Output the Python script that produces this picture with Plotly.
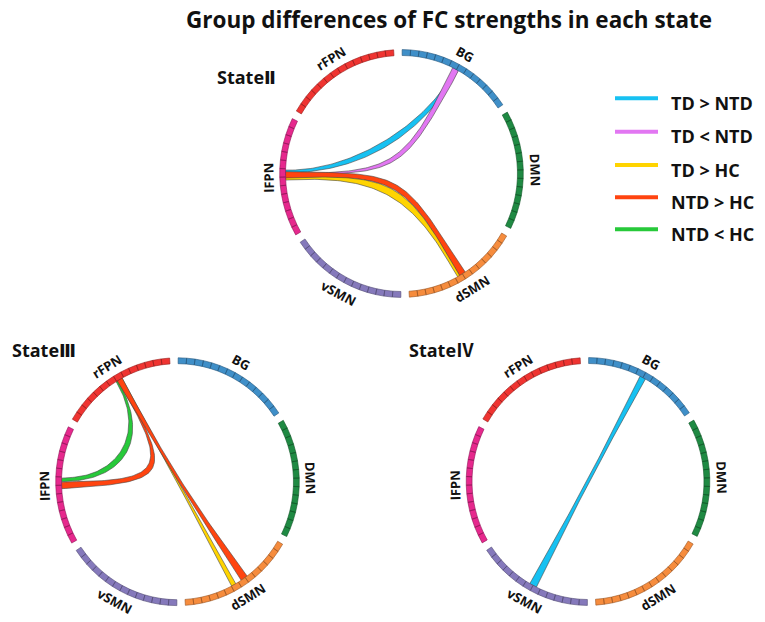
import numpy as np
import plotly.graph_objects as go

# ---- data -------------------------------------------------------------
groups = ["BG", "DMN", "dSMN", "vSMN", "lFPN", "rFPN"]   # clockwise from the top
group_colors = ["#3f8fc8", "#1f8a43", "#f68c3d", "#8579bb", "#e6288d", "#ef3431"]
n_roi = 14

contrasts = ["TD > NTD", "TD < NTD", "TD > HC", "NTD > HC", "NTD < HC"]
contrast_colors = ["#17c1f2", "#e277f2", "#ffd400", "#ff4410", "#27c93a"]

state_names = ["Ⅱ", "Ⅲ", "Ⅳ"]

# (contrast, group A, ROI position A, width A, group B, ROI position B, width B)
links_state2 = [
    ("TD > NTD", "lFPN", 7.68, 0.33, "BG", 7.05, 0.38),
    ("TD < NTD", "lFPN", 7.35, 0.20, "BG", 6.90, 0.85),
    ("NTD > HC", "lFPN", 7.20, 0.90, "dSMN", 7.03, 0.88),
    ("TD > HC", "lFPN", 6.75, 0.25, "dSMN", 7.58, 0.35),
]
links_state3 = [
    ("TD > HC", "rFPN", 7.68, 0.20, "dSMN", 7.70, 0.63),
    ("NTD < HC", "rFPN", 7.05, 0.25, "lFPN", 7.68, 0.48),
    ("NTD > HC", "rFPN", 7.30, 0.25, "lFPN", 7.00, 0.85),
    ("NTD > HC", "rFPN", 7.45, 0.70, "dSMN", 6.15, 0.90),
]
links_state4 = [
    ("TD > NTD", "BG", 6.97, 0.75, "vSMN", 6.99, 0.93),
]

# ---- style ------------------------------------------------------------
# how far the bezier control points sit from the centre, for the two ribbon edges
bends_state2 = [(0.36, 0.45), (0.0, 0.07), (0.05, -0.03), (0.21, 0.07)]
bends_state3 = [(0.2, 0.2), (0.50, 0.44), (0.11, 0.05), (0.2, 0.2)]
bends_state4 = [(0.2, 0.2)]
numeral_fonts = ["DejaVu Sans", "DejaVu Sans", "Noto Sans CJK JP"]

rot = 1.7          # whole layout turned a little counter-clockwise
gap = 4.0          # degrees between groups
cell = (60 - gap) / n_roi
r_in, r_out, r_lab = 1.0, 1.05, 1.15
px_x, px_y = 116, 118   # pixels per unit radius
rng = 1.18
W, H = 765, 622
FONT = "Open Sans, Noto Sans CJK SC"

centres = [(401.5, 173.5), (177.5, 481.7), (588, 481.5)]
label_pos = [(215, 77), (10, 349.5), (407, 348.5)]


def ang(group, pos):
    k = groups.index(group)
    return 90 + rot - gap / 2 - 60 * k - pos * cell


def pt(deg, r=1.0):
    a = np.deg2rad(deg)
    return np.array([r * np.cos(a), r * np.sin(a)])


def arc(d0, d1, r, n=16):
    a = np.deg2rad(np.linspace(d0, d1, n))
    return np.column_stack([r * np.cos(a), r * np.sin(a)])


def bezier(p0, p3, s, n=80):
    p1, p2 = s * p0, s * p3
    t = np.linspace(0, 1, n)[:, None]
    return (1 - t) ** 3 * p0 + 3 * (1 - t) ** 2 * t * p1 + 3 * (1 - t) * t ** 2 * p2 + t ** 3 * p3


def ribbon(link, bend):
    _, ga, pa, wa, gb, pb, wb = link
    ca, cb = ang(ga, pa), ang(gb, pb)
    a_lo, a_hi = ca - wa * cell / 2, ca + wa * cell / 2
    b_lo, b_hi = cb - wb * cell / 2, cb + wb * cell / 2
    while b_lo < a_hi:
        b_lo += 360
        b_hi += 360
    path = np.vstack([
        arc(a_lo, a_hi, r_in),
        bezier(pt(a_hi), pt(b_lo), bend[0]),
        arc(b_lo, b_hi, r_in),
        bezier(pt(b_hi), pt(a_lo), bend[1]),
        arc(a_lo, a_lo, r_in, 1),
    ])
    return path[:, 0], path[:, 1]


def darker(hexcol, f=0.7):
    h = hexcol.lstrip("#")
    r, g, b = (int(h[i:i + 2], 16) for i in (0, 2, 4))
    return "rgb(%d,%d,%d)" % (r * f, g * f, b * f)


fig = go.Figure()
layout_axes = {}
annotations = []
all_links = [links_state2, links_state3, links_state4]
all_bends = [bends_state2, bends_state3, bends_state4]

for s, (cx, cy) in enumerate(centres):
    sfx = "" if s == 0 else str(s + 1)
    xa, ya = "x" + sfx, "y" + sfx
    hx, hy = rng * px_x, rng * px_y
    layout_axes["xaxis" + sfx] = dict(domain=[(cx - hx) / W, (cx + hx) / W], range=[-rng, rng],
                                      visible=False, fixedrange=True, anchor=ya)
    layout_axes["yaxis" + sfx] = dict(domain=[(H - cy - hy) / H, (H - cy + hy) / H], range=[-rng, rng],
                                      visible=False, fixedrange=True, anchor=xa)

    # chords
    for link, bend in zip(all_links[s], all_bends[s]):
        x, y = ribbon(link, bend)
        col = contrast_colors[contrasts.index(link[0])]
        fig.add_trace(go.Scatter(x=x, y=y, mode="lines", fill="toself", fillcolor=col,
                                 line=dict(color="rgba(70,70,70,0.85)", width=0.7),
                                 hoverinfo="skip", showlegend=False, xaxis=xa, yaxis=ya))

    # ring of ROI cells
    for k, g in enumerate(groups):
        xs, ys = [], []
        start = 90 + rot - gap / 2 - 60 * k
        for i in range(n_roi):
            d0, d1 = start - i * cell, start - (i + 1) * cell
            poly = np.vstack([arc(d0, d1, r_in, 5), arc(d1, d0, r_out, 5), arc(d0, d0, r_in, 1)])
            xs += list(poly[:, 0]) + [None]
            ys += list(poly[:, 1]) + [None]
        fig.add_trace(go.Scatter(x=xs, y=ys, mode="lines", fill="toself", fillcolor=group_colors[k],
                                 line=dict(color=darker(group_colors[k], 0.62), width=0.6),
                                 hoverinfo="skip", showlegend=False, xaxis=xa, yaxis=ya))

        mid = start - (60 - gap) / 2
        ta = (90 - mid + 120) % 360 - 120
        if ta > 120:
            ta -= 180
        p = pt(mid, r_lab)
        annotations.append(dict(x=p[0], y=p[1], xref=xa, yref=ya, text="<b>%s</b>" % g,
                                showarrow=False, textangle=ta,
                                font=dict(family=FONT, size=13, color="#111")))

    lx, ly = label_pos[s]
    annotations.append(dict(x=lx / W, y=1 - ly / H, xref="paper", yref="paper", xanchor="left",
                            yanchor="middle",
                            text="<b>State<span style='font-family:%s'>%s</span></b>"
                                 % (numeral_fonts[s], state_names[s]),
                            showarrow=False, font=dict(family=FONT, size=18, color="#111")))

# legend drawn by hand
shapes = []
leg_y = [98.3, 131.7, 165, 197.3, 229.3]
for i, name in enumerate(contrasts):
    y = 1 - leg_y[i] / H
    shapes.append(dict(type="line", xref="paper", yref="paper", x0=615 / W, x1=658 / W, y0=y, y1=y,
                       line=dict(color=contrast_colors[i], width=4)))
    annotations.append(dict(x=669 / W, y=1 - (leg_y[i] + 4.5) / H, xref="paper", yref="paper",
                            xanchor="left", yanchor="middle", text="<b>%s</b>" % name, showarrow=False,
                            font=dict(family=FONT, size=18, color="#111")))

fig.update_layout(
    width=W, height=H,
    margin=dict(l=0, r=0, t=0, b=0),
    paper_bgcolor="white", plot_bgcolor="white",
    title=dict(text="<b>Group differences of FC strengths in each state</b>", x=449 / W, xanchor="center",
               y=1 - 20 / H, yanchor="middle",
               font=dict(family=FONT, size=22.5, color="#111")),
    annotations=annotations, shapes=shapes,
    **layout_axes,
)

fig.write_html("out.html", config={"displayModeBar": False},
               post_script="document.body.style.margin='0';")
